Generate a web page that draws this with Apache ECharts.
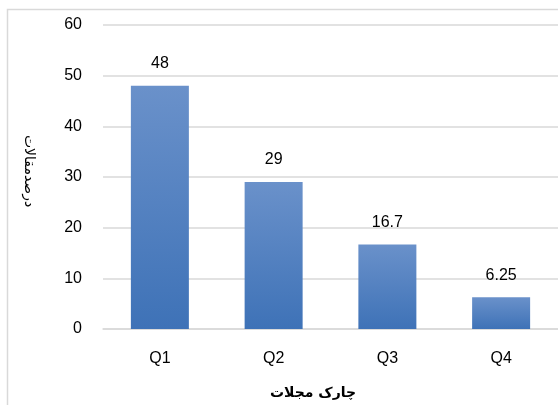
<!DOCTYPE html>
<html>
<head>
<meta charset="utf-8">
<script src="https://cdn.jsdelivr.net/npm/echarts@6/dist/echarts.min.js"></script>
<style>
  html, body { margin: 0; padding: 0; background: #fff; }
  #chart { width: 558px; height: 405px; }
</style>
</head>
<body>
<div id="chart"></div>
<script>
const categories = ['Q1', 'Q2', 'Q3', 'Q4'];
const values = [48, 29, 16.7, 6.25];
const valueLabels = ['48', '29', '16.7', '6.25'];
const yTitle = 'درصدمقالات';
const xTitle = 'چارک مجلات';

const myChart = echarts.init(document.getElementById('chart'));

const option = {
  animation: false,
  graphic: [
    {
      type: 'rect',
      shape: { x: 7.5, y: 9.5, width: 600, height: 420 },
      style: { fill: 'none', stroke: '#d9d9d9', lineWidth: 1.5 }
    },
    {
      type: 'text',
      x: 29,
      y: 171,
      rotation: -Math.PI / 2,
      style: {
        text: yTitle,
        font: '14px "DejaVu Sans"',
        fill: '#000',
        align: 'center',
        verticalAlign: 'middle'
      }
    },
    {
      type: 'text',
      x: 313,
      y: 393,
      style: {
        text: xTitle,
        font: 'bold 14px "DejaVu Sans"',
        fill: '#000',
        align: 'center',
        verticalAlign: 'middle'
      }
    }
  ],
  grid: {
    left: 103,
    top: 25,
    width: 460,
    height: 304
  },
  xAxis: {
    type: 'category',
    data: categories,
    axisTick: { show: false },
    axisLine: { lineStyle: { color: '#d9d9d9', width: 1.5 } },
    axisLabel: {
      color: '#000',
      fontSize: 16,
      fontFamily: 'Liberation Sans',
      margin: 22
    }
  },
  yAxis: {
    type: 'value',
    min: 0,
    max: 60,
    interval: 10,
    axisLine: { show: false },
    axisTick: { show: false },
    splitLine: { lineStyle: { color: '#d9d9d9', width: 1.5 } },
    axisLabel: {
      color: '#000',
      fontSize: 16,
      fontFamily: 'Liberation Sans',
      margin: 21
    }
  },
  series: [
    {
      type: 'bar',
      data: values,
      barWidth: 58,
      itemStyle: {
        color: {
          type: 'linear',
          x: 0, y: 0, x2: 0, y2: 1,
          colorStops: [
            { offset: 0, color: '#6a91ca' },
            { offset: 1, color: '#3e72b7' }
          ]
        }
      },
      label: {
        show: true,
        position: 'top',
        distance: 14,
        color: '#000',
        fontSize: 16,
        fontFamily: 'Liberation Sans',
        formatter: (p) => valueLabels[p.dataIndex]
      }
    }
  ]
};

myChart.setOption(option);
</script>
</body>
</html>
